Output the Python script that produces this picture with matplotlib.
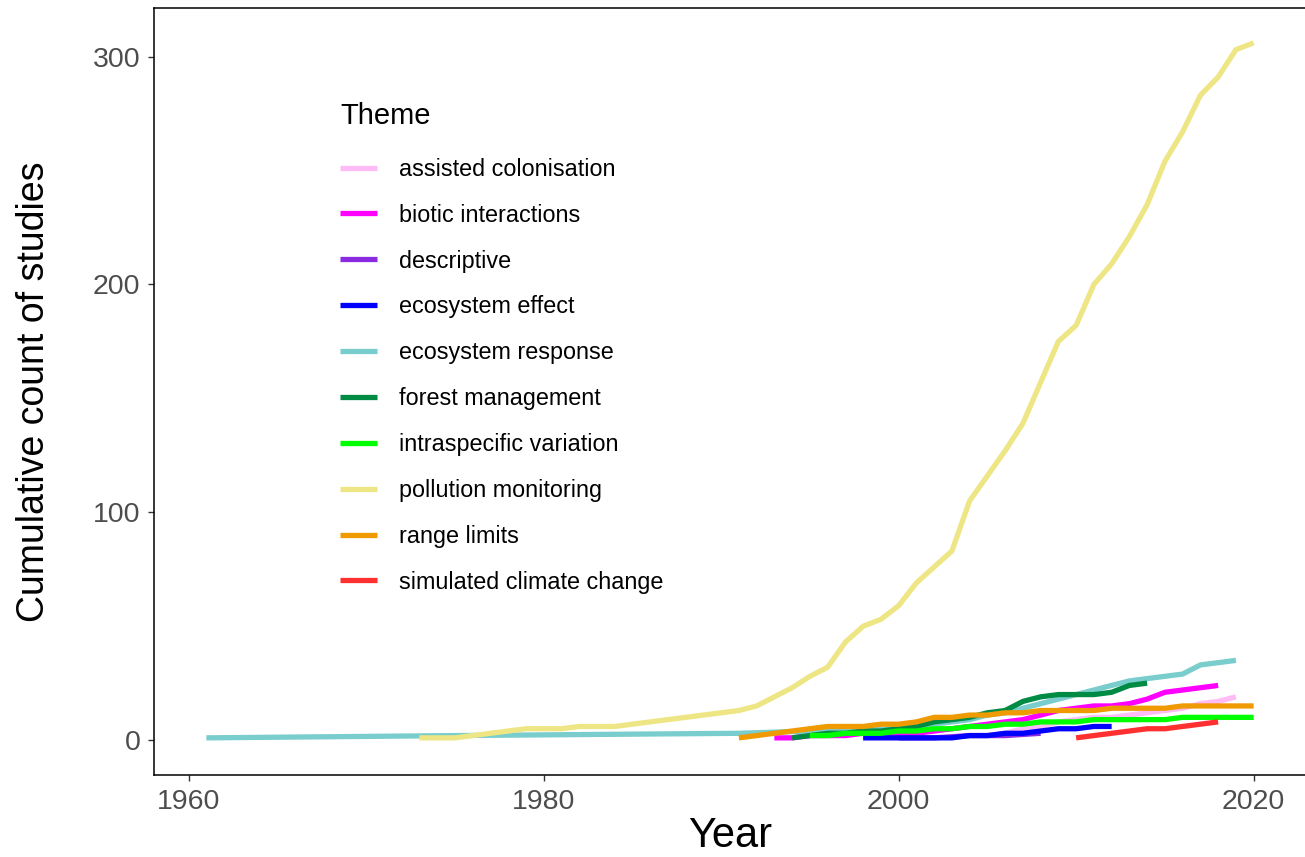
import matplotlib
matplotlib.use("Agg")
import matplotlib.pyplot as plt
from matplotlib.lines import Line2D

plt.rcParams['font.family'] = ['Liberation Sans', 'DejaVu Sans']

# ---------------- data ----------------
themes = ["assisted colonisation", "biotic interactions", "descriptive",
          "ecosystem effect", "ecosystem response", "forest management",
          "intraspecific variation", "pollution monitoring", "range limits",
          "simulated climate change"]
colors = ["#FFBBF5", "#FF00FF", "#8A2BE2", "#0000FF", "#79CDCD",
          "#008B45", "#00FF00", "#EEE685", "#EE9A00", "#FF3030"]

assisted_years = list(range(2005, 2020))
assisted_vals = [2, 3, 5, 6, 8, 9, 10, 10, 11, 12, 13, 14, 16, 17, 19]

biotic_years = list(range(1993, 2019))
biotic_vals = [1, 1, 2, 2, 2, 3, 3, 3, 3, 4, 5, 6, 7, 8, 9, 11, 13, 14, 15, 15,
               16, 18, 21, 22, 23, 24]

descriptive_years = [2000, 2002, 2004, 2006, 2008]
descriptive_vals = [1, 1, 2, 2, 3]

effect_years = list(range(1998, 2013))
effect_vals = [1, 1, 1, 1, 1, 1, 2, 2, 3, 3, 4, 5, 5, 6, 6]

response_years = [1961, 1975, 1991, 1995, 2000, 2001, 2002, 2003, 2004, 2005,
                  2006, 2007, 2008, 2009, 2010, 2011, 2012, 2013, 2014, 2015,
                  2016, 2017, 2018, 2019]
response_vals = [1, 2, 3, 4, 5, 6, 7, 8, 9, 11, 12, 14, 16, 18, 20, 22, 24, 26,
                 27, 28, 29, 33, 34, 35]

forest_years = list(range(1994, 2015))
forest_vals = [1, 2, 3, 3, 4, 4, 5, 6, 8, 9, 10, 12, 13, 17, 19, 20, 20, 20, 21,
               24, 25]

intra_years = list(range(1995, 2021))
intra_vals = [2, 2, 3, 3, 3, 4, 4, 5, 5, 6, 6, 7, 7, 8, 8, 8, 9, 9, 9, 9, 9, 10,
              10, 10, 10, 10]

pollution_years = list(range(1973, 2021))
pollution_vals = [1, 1, 1, 2, 3, 4, 5, 5, 5, 6, 6, 6, 7, 8, 9, 10, 11, 12, 13,
                  15, 19, 23, 28, 32, 43, 50, 53, 59, 69, 76, 83, 105, 116, 127,
                  139, 157, 175, 182, 200, 209, 221, 235, 254, 267, 283, 291,
                  303, 306]

range_years = list(range(1991, 2021))
range_vals = [1, 2, 3, 4, 5, 6, 6, 6, 7, 7, 8, 10, 10, 11, 11, 12, 12, 13, 13,
              13, 13, 14, 14, 14, 14, 15, 15, 15, 15, 15]

climate_years = list(range(2010, 2019))
climate_vals = [1, 2, 3, 4, 5, 5, 6, 7, 8]

series = [(assisted_years, assisted_vals), (biotic_years, biotic_vals),
          (descriptive_years, descriptive_vals), (effect_years, effect_vals),
          (response_years, response_vals), (forest_years, forest_vals),
          (intra_years, intra_vals), (pollution_years, pollution_vals),
          (range_years, range_vals), (climate_years, climate_vals)]

x_ticks = [1960, 1980, 2000, 2020]
y_ticks = [0, 100, 200, 300]

# ---------------- figure ----------------
W, H = 1305, 857
fig = plt.figure(figsize=(W / 100, H / 100), dpi=100)
ax = fig.add_axes([154 / W, 1 - 775 / H, (1306 - 154) / W, (775 - 8) / H])

lw = 3.8
for (xs, ys), c in zip(series, colors):
    ax.plot(xs, ys, color=c, lw=lw, solid_capstyle='butt', solid_joinstyle='round')

ax.set_xlim(1958.05, 2022.95)
ax.set_ylim(-15.3, 321.3)
ax.set_xticks(x_ticks)
ax.set_yticks(y_ticks)
ax.tick_params(axis='both', which='major', length=4.3, width=1.0, color='#333333',
               labelcolor='#4D4D4D', labelsize=20.5, pad=5.5)
for s in ax.spines.values():
    s.set_linewidth(1.1)
    s.set_color('black')

ax.set_xlabel("Year", fontsize=30, color='black', labelpad=1)
ax.set_ylabel("Cumulative count of studies", fontsize=27, color='black', labelpad=29)

handles = [Line2D([0], [0], color=c, lw=lw, solid_capstyle='butt') for c in colors]
leg = ax.legend(handles, themes, title="Theme", loc='upper left',
                bbox_to_anchor=(340 / W, 1 - 102 / H), bbox_transform=fig.transFigure,
                frameon=False, fontsize=16.8, title_fontsize=21,
                handlelength=1.6, handletextpad=0.95, labelspacing=0.98,
                borderpad=0, borderaxespad=0)
leg._legend_box.align = "left"
leg._legend_box.sep = 20

fig.savefig("out.png", dpi=100)
